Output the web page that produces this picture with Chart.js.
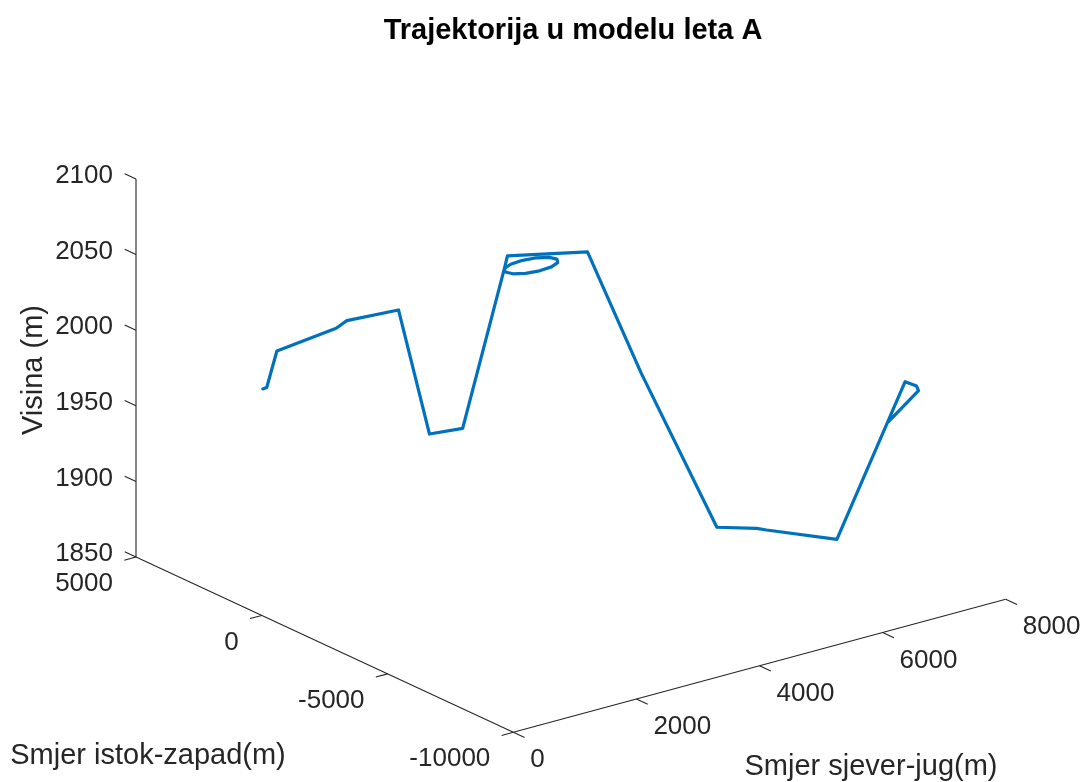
<!DOCTYPE html>
<html>
<head>
<meta charset="utf-8">
<script src="https://cdn.jsdelivr.net/npm/chart.js@4/dist/chart.umd.min.js"></script>
<style>
html,body{margin:0;padding:0;background:#ffffff;}
#wrap{width:1088px;height:782px;position:relative;}
</style>
</head>
<body>
<div id="wrap"><canvas id="c"></canvas></div>
<script>
// ---------- texts ----------
const titleText = 'Trajektorija u modelu leta A';
const nsAxisTitle = 'Smjer sjever-jug(m)';
const ewAxisTitle = 'Smjer istok-zapad(m)';
const altAxisTitle = 'Visina (m)';

// ---------- tick values ----------
const nsTicks = [0, 2000, 4000, 6000, 8000];
const ewTicks = [-10000, -5000, 0, 5000];
const altTicks = [1850, 1900, 1950, 2000, 2050, 2100];

// ---------- trajectory (north-south, east-west, altitude) ----------
const nsValues  = [1340, 1380, 1490, 2100, 2210, 2810, 3060, 3460,
                   3610, 3541, 3581, 3721, 3921, 4130, 4290, 4359, 4319, 4179, 3979, 3770, 3610,
                   3620, 4430, 4990, 5790, 6140, 6240, 6990, 7600, 7720, 7740, 7380];
const ewValues  = [3240, 3180, 3045, 2180, 2025, 1440, 820, 480,
                   -811, -1011, -1220, -1380, -1449, -1409, -1269, -1069, -860, -700, -631, -671, -811,
                   -910, -2110, -2860, -3925, -4650, -4800, -5760, -6980, -7140, -7170, -6860];
const altValues = [1960, 1961, 1985, 2000, 2005, 2010, 1930, 1932,
                   2046, 2046, 2046, 2046, 2046, 2046, 2046, 2046, 2046, 2046, 2046, 2046, 2046,
                   2055, 2058, 1978, 1875, 1876, 1875, 1868, 1975, 1972, 1969, 1950];

// ---------- axis limits ----------
const nsRange = [0, 8000];
const ewRange = [-10000, 5000];
const altRange = [1850, 2100];

// ---------- view (layout of the projected 3D box, MATLAB default view) ----------
const VIEW = {
  origin: [513.3, 732.3],      // corner ns=min, ew=min, alt=min
  nsVec:  [492.4, -133.0],     // full ns range
  ewVec:  [-377.3, -175.3],    // full ew range
  altVec: [0, -378.0]          // full alt range
};
const W = 1088, H = 782;
const TICK_NS = 190, TICK_EW = 450;  // tick mark lengths in data units
const BLUE = '#0072BD', AXIS = '#262626';
const FONT = '"Liberation Sans", Arial, Helvetica, sans-serif';

function project(ns, ew, alt) {
  const a = (ns - nsRange[0]) / (nsRange[1] - nsRange[0]);
  const b = (ew - ewRange[0]) / (ewRange[1] - ewRange[0]);
  const c = (alt - altRange[0]) / (altRange[1] - altRange[0]);
  return {
    x: VIEW.origin[0] + a * VIEW.nsVec[0] + b * VIEW.ewVec[0] + c * VIEW.altVec[0],
    y: VIEW.origin[1] + a * VIEW.nsVec[1] + b * VIEW.ewVec[1] + c * VIEW.altVec[1]
  };
}

const trajectory = nsValues.map((v, i) => project(v, ewValues[i], altValues[i]));

function seg(p, q) {
  return {
    data: [p, q], showLine: true, borderColor: AXIS, borderWidth: 1.1,
    pointRadius: 0, fill: false, tension: 0, order: 2
  };
}

const datasets = [];
// axis lines
datasets.push(seg(project(nsRange[0], ewRange[0], altRange[0]), project(nsRange[1], ewRange[0], altRange[0])));
datasets.push(seg(project(nsRange[0], ewRange[0], altRange[0]), project(nsRange[0], ewRange[1], altRange[0])));
datasets.push(seg(project(nsRange[0], ewRange[1], altRange[0]), project(nsRange[0], ewRange[1], altRange[1])));
// tick marks
nsTicks.forEach(t => datasets.push(seg(project(t, ewRange[0], altRange[0]), project(t, ewRange[0] - TICK_EW, altRange[0]))));
ewTicks.forEach(t => datasets.push(seg(project(nsRange[0], t, altRange[0]), project(nsRange[0] - TICK_NS, t, altRange[0]))));
altTicks.forEach(t => datasets.push(seg(project(nsRange[0], ewRange[1], t), project(nsRange[0], ewRange[1] + TICK_EW, t))));
// trajectory
datasets.push({
  data: trajectory, showLine: true, borderColor: BLUE, borderWidth: 3.2,
  pointRadius: 0, fill: false, tension: 0, order: 1,
  borderJoinStyle: 'round', borderCapStyle: 'round'
});

const textPlugin = {
  id: 'texts3d',
  afterDraw(chart) {
    const ctx = chart.ctx;
    const sx = chart.scales.x, sy = chart.scales.y;
    const px = p => ({ x: sx.getPixelForValue(p.x), y: sy.getPixelForValue(p.y) });
    ctx.save();
    ctx.fillStyle = AXIS;
    ctx.font = '26px ' + FONT;
    ctx.textBaseline = 'middle';
    // altitude tick labels
    ctx.textAlign = 'right';
    altTicks.forEach(t => {
      const p = px(project(nsRange[0], ewRange[1], t));
      ctx.fillText(String(t), p.x - 23, p.y - 3);
    });
    // east-west tick labels
    ewTicks.forEach(t => {
      const p = px(project(nsRange[0], t, altRange[0]));
      ctx.fillText(String(t), p.x - 23, p.y + 27);
    });
    // north-south tick labels
    ctx.textAlign = 'left';
    nsTicks.forEach(t => {
      const p = px(project(t, ewRange[0], altRange[0]));
      ctx.fillText(String(t), p.x + 17, p.y + 28);
    });
    // axis titles
    ctx.font = '29px ' + FONT;
    ctx.textAlign = 'center';
    ctx.fillText(ewAxisTitle, 148, 756);
    ctx.fillText(nsAxisTitle, 871, 767);
    ctx.save();
    ctx.translate(34, 370);
    ctx.rotate(-Math.PI / 2);
    ctx.fillText(altAxisTitle, 0, 0);
    ctx.restore();
    // chart title
    ctx.fillStyle = '#000000';
    ctx.font = 'bold 29px ' + FONT;
    ctx.fillText(titleText, 573, 31);
    ctx.restore();
  }
};

new Chart(document.getElementById('c'), {
  type: 'scatter',
  data: { datasets },
  options: {
    responsive: true,
    maintainAspectRatio: false,
    animation: false,
    devicePixelRatio: 1,
    layout: { padding: 0 },
    plugins: { legend: { display: false }, tooltip: { enabled: false }, title: { display: false } },
    scales: {
      x: { type: 'linear', min: 0, max: W, display: false },
      y: { type: 'linear', min: 0, max: H, reverse: true, display: false }
    }
  },
  plugins: [textPlugin]
});
</script>
</body>
</html>
